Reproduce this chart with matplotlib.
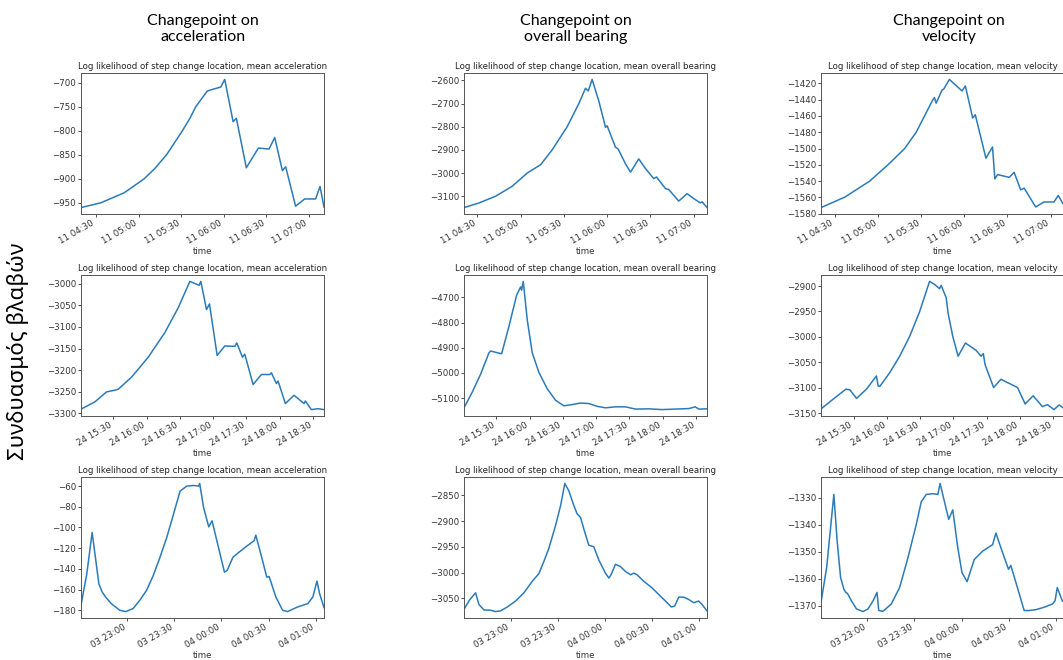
import matplotlib
matplotlib.use("Agg")
import matplotlib.pyplot as plt
import matplotlib.dates as mdates
from matplotlib.ticker import MultipleLocator
import pandas as pd

# minutes after midnight of the first day of each row
day11 = "2019-05-11"
day24 = "2019-05-24"
day03 = "2019-05-03"

acc11_t = [259.5, 273.5, 290, 304, 312, 319.7, 326, 330.9, 336, 340.3, 345, 348.5, 353, 357.9,
           360.7, 366.6, 368.9, 375.9, 384.4, 391.9, 395.9, 401.3, 403.6, 410.6, 417.0, 424.7,
           427.8, 430.6]
acc11_v = [-960, -950, -929, -900, -877, -850, -822, -800, -775, -750, -731, -717, -713, -709,
           -693, -781, -774, -877, -836, -838, -814, -883, -875, -957, -942, -942, -916, -959]

bear11_t = [260.8, 271.2, 282.7, 294.2, 304.6, 313.9, 321.9, 332.3, 340.4, 345.0, 346.9, 349.6,
            354.2, 358.9, 360.0, 365.8, 367.6, 372.7, 376.2, 381.9, 386.6, 392.3, 394.2, 400.4,
            402.7, 409.6, 415.4, 420.0, 424.6, 425.8, 429.2]
bear11_v = [-3149, -3129, -3100, -3057, -3000, -2964, -2900, -2800, -2700, -2634, -2646, -2596,
            -2689, -2803, -2796, -2889, -2896, -2960, -2996, -2939, -2981, -3024, -3017, -3067,
            -3071, -3121, -3089, -3110, -3129, -3124, -3149]

vel11_t = [260.3, 276.9, 294.2, 306.9, 318.5, 326.5, 332.3, 338.1, 339.2, 340.4, 344.5, 345.7,
           349.6, 358.4, 360.7, 365.8, 367.6, 375.0, 379.6, 381.2, 383.1, 391.2, 394.6, 399.2,
           401.6, 409.6, 415.4, 422.3, 425.3, 427.9, 429.3]
vel11_v = [-1572.6, -1559.7, -1540, -1520, -1500, -1480, -1460, -1440, -1437.4, -1444.3, -1428.1,
           -1426.9, -1415.1, -1429.3, -1423.2, -1462.5, -1458.5, -1511.9, -1498.1, -1537.4,
           -1532.1, -1535.4, -1529.3, -1550.8, -1548.7, -1571.8, -1565.7, -1565.7, -1557.7,
           -1565.7, -1569.8]

acc24_t = [900.9, 913.5, 924.0, 930.0, 934.5, 946.5, 961.5, 976.5, 988.5, 994.5, 999.0, 1007.4,
           1008.9, 1014.0, 1016.7, 1023.6, 1030.5, 1039.5, 1041.3, 1046.4, 1048.5, 1056.0, 1063.5,
           1071.0, 1072.5, 1077.0, 1078.5, 1085.1, 1092.9, 1101.9, 1103.1, 1108.5, 1114.5, 1119.9]
acc24_v = [-3290, -3273, -3250, -3247, -3244, -3216, -3170, -3113, -3056, -3021, -2995, -3004,
           -2995, -3060, -3047, -3166, -3144, -3145, -3137, -3170, -3163, -3233, -3210, -3210,
           -3206, -3231, -3225, -3277, -3258, -3277, -3271, -3291, -3289, -3291]

bear24_t = [900.9, 908.4, 915.9, 923.4, 924.9, 934.8, 941.4, 948.3, 951.9, 952.8, 954.3, 957.9,
            962.4, 968.4, 975.9, 983.4, 990.9, 998.4, 1005.9, 1013.4, 1020.9, 1028.4, 1037.4,
            1046.4, 1055.4, 1067.4, 1079.4, 1091.4, 1103.4, 1109.4, 1112.4, 1119.9]
bear24_v = [-5139, -5076, -5005, -4920, -4913, -4924, -4815, -4691, -4658, -4671, -4636, -4789,
            -4920, -4998, -5063, -5109, -5131, -5126, -5120, -5122, -5133, -5139, -5135, -5135,
            -5144, -5143, -5146, -5144, -5142, -5135, -5144, -5143]

vel24_t = [900.3, 911.4, 922.8, 926.4, 932.4, 941.4, 950.4, 951.9, 953.4, 962.4, 971.4, 980.4,
           989.4, 998.4, 1002.9, 1007.4, 1008.9, 1013.4, 1015.2, 1019.4, 1024.2, 1030.8, 1037.4,
           1040.4, 1044.9, 1047.0, 1048.5, 1056.3, 1062.9, 1068.9, 1077.9, 1084.8, 1092.0, 1100.4,
           1104.9, 1110.9, 1115.4, 1119.9]
vel24_v = [-3141.6, -3122.2, -3102.7, -3104.0, -3120.9, -3102.7, -3076.8, -3096.2, -3097.5,
           -3070.3, -3038.0, -2999.1, -2950.5, -2890.9, -2896.8, -2905.2, -2898.7, -2922.7,
           -2953.8, -2999.1, -3038.0, -3012.0, -3021.8, -3026.3, -3038.0, -3032.8, -3054.1,
           -3099.5, -3083.3, -3089.8, -3099.5, -3131.9, -3115.7, -3137.0, -3133.2, -3142.9,
           -3133.8, -3140.3]

acc03_t = [1350.4, 1354.1, 1357.5, 1361.8, 1363.9, 1366.1, 1369.7, 1375.1, 1378.9, 1383.6, 1387.9,
           1392.2, 1396.5, 1400.8, 1405.1, 1409.4, 1413.6, 1417.9, 1422.2, 1425.4, 1426.1, 1428.6,
           1431.9, 1434.0, 1441.9, 1443.6, 1447.3, 1451.1, 1456.5, 1460.8, 1461.9, 1465.1, 1468.9,
           1470.4, 1474.7, 1479.0, 1482.2, 1488.6, 1495.1, 1498.3, 1500.9, 1502.6, 1505.4]
acc03_v = [-175.2, -144.8, -104.8, -154.4, -162.4, -167.2, -173.6, -180.0, -181.3, -178.4, -170.4,
           -160.8, -146.4, -128.8, -109.6, -87.2, -64.8, -60.0, -59.4, -60.0, -57.4, -80.8, -99.4,
           -93.6, -143.2, -141.6, -128.8, -124.0, -117.6, -112.8, -107.4, -125.6, -148.0, -147.4,
           -167.2, -180.0, -181.3, -176.8, -173.6, -167.2, -151.8, -164.0, -177.4]

bear03_t = [1350.3, 1354.1, 1357.7, 1359.8, 1363.0, 1367.3, 1370.4, 1373.6, 1377.9, 1383.2, 1388.5,
            1393.8, 1398.1, 1401.2, 1404.4, 1408.7, 1411.9, 1414.6, 1417.2, 1420.4, 1422.5, 1424.6,
            1426.7, 1429.9, 1433.1, 1436.3, 1440.5, 1442.7, 1444.1, 1446.9, 1450.1, 1453.3, 1456.5,
            1458.6, 1460.7, 1465.0, 1470.3, 1474.5, 1478.8, 1482.6, 1484.7, 1487.3, 1490.4, 1493.6,
            1496.8, 1500.0, 1502.1, 1505.3]
bear03_v = [-3071.0, -3051.9, -3039.2, -3061.5, -3072.3, -3072.9, -3075.5, -3074.2, -3066.6,
            -3055.1, -3039.2, -3016.9, -3001.8, -2978.7, -2953.2, -2908.6, -2870.4, -2827.1,
            -2841.7, -2870.4, -2886.3, -2892.7, -2915.0, -2946.8, -2950.0, -2975.5, -3001.0,
            -3010.5, -3004.1, -2983.8, -2988.2, -2997.8, -3004.1, -3001.0, -3004.1, -3016.9,
            -3029.6, -3042.4, -3055.1, -3066.6, -3064.6, -3047.5, -3047.5, -3051.9, -3058.3,
            -3055.1, -3061.5, -3074.2]

vel03_t = [1350.4, 1354.0, 1358.6, 1360.7, 1362.9, 1365.0, 1366.2, 1367.3, 1369.8, 1373.0, 1377.2,
           1380.4, 1383.6, 1386.1, 1387.2, 1389.9, 1395.2, 1400.5, 1405.8, 1411.1, 1414.3, 1417.5,
           1421.7, 1424.9, 1426.3, 1429.1, 1431.8, 1434.4, 1437.6, 1440.3, 1443.5, 1448.1, 1453.4,
           1459.8, 1461.9, 1465.1, 1469.9, 1471.4, 1475.6, 1479.9, 1483.0, 1487.3, 1492.6, 1497.9,
           1499.6, 1501.0, 1504.2, 1505.3]
vel03_v = [-1368.8, -1355.9, -1328.8, -1346.1, -1359.6, -1363.9, -1365.1, -1365.5, -1368.2,
           -1371.2, -1372.2, -1371.2, -1368.2, -1365.1, -1371.8, -1372.1, -1369.4, -1363.3,
           -1352.3, -1340.0, -1331.5, -1328.8, -1328.5, -1328.8, -1324.7, -1331.5, -1338.0,
           -1334.5, -1348.6, -1357.8, -1361.1, -1352.9, -1349.8, -1347.4, -1343.1, -1348.6,
           -1356.5, -1355.1, -1363.3, -1371.8, -1371.8, -1371.5, -1370.6, -1369.4, -1368.2,
           -1363.3, -1368.2, -1368.8]

col_headers = ["Changepoint on\nacceleration", "Changepoint on\noverall bearing",
               "Changepoint on\nvelocity"]
titles = ["Log likelihood of step change location, mean acceleration",
          "Log likelihood of step change location, mean overall bearing",
          "Log likelihood of step change location, mean velocity"]
row_label = "Συνδυασμός βλαβών"

rows = [
    (day11, [(acc11_t, acc11_v, 50), (bear11_t, bear11_v, 100), (vel11_t, vel11_v, 20)]),
    (day24, [(acc24_t, acc24_v, 50), (bear24_t, bear24_v, 100), (vel24_t, vel24_v, 50)]),
    (day03, [(acc03_t, acc03_v, 20), (bear03_t, bear03_v, 50), (vel03_t, vel03_v, 10)]),
]

W, H = 1063, 660
fig = plt.figure(figsize=(W / 100, H / 100), dpi=100)

lefts = [81, 464, 821]
tops = [73, 275, 477]
aw, ah = 243, 141
fs = 6.2

for r, (day, panels) in enumerate(rows):
    base = pd.Timestamp(day)
    for c, (t, v, step) in enumerate(panels):
        ax = fig.add_axes([lefts[c] / W, 1 - (tops[r] + ah) / H, aw / W, ah / H])
        x = base + pd.to_timedelta(t, unit="min")
        ax.plot(x, v, color="#2b7bba", lw=1.1)
        ax.set_xlim(x[0], x[-1])
        ax.yaxis.set_major_locator(MultipleLocator(step))
        ax.xaxis.set_major_locator(mdates.MinuteLocator(byminute=[0, 30]))
        ax.xaxis.set_major_formatter(mdates.DateFormatter("%d %H:%M"))
        ax.tick_params(labelsize=fs, length=2, width=0.6, pad=1.5, colors="#333333")
        for lab in ax.get_xticklabels():
            lab.set_rotation(30)
            lab.set_ha("right")
        ax.set_xlabel("time", fontsize=fs, labelpad=1, color="#333333")
        ax.set_title(titles[c], fontsize=fs, pad=3, color="#222222")
        for s in ax.spines.values():
            s.set_linewidth(0.7)
            s.set_color("#555555")

header_x = [203, 576, 949]
for c, txt in enumerate(col_headers):
    fig.text(header_x[c] / W, 1 - 29 / H, txt, ha="center", va="center",
             fontsize=11.5, family="Lato", linespacing=1.25)

fig.text(18 / W, 1 - 351 / H, row_label, rotation=90, ha="center", va="center",
         fontsize=16, family="Noto Sans")

fig.savefig("out.png", dpi=100)
